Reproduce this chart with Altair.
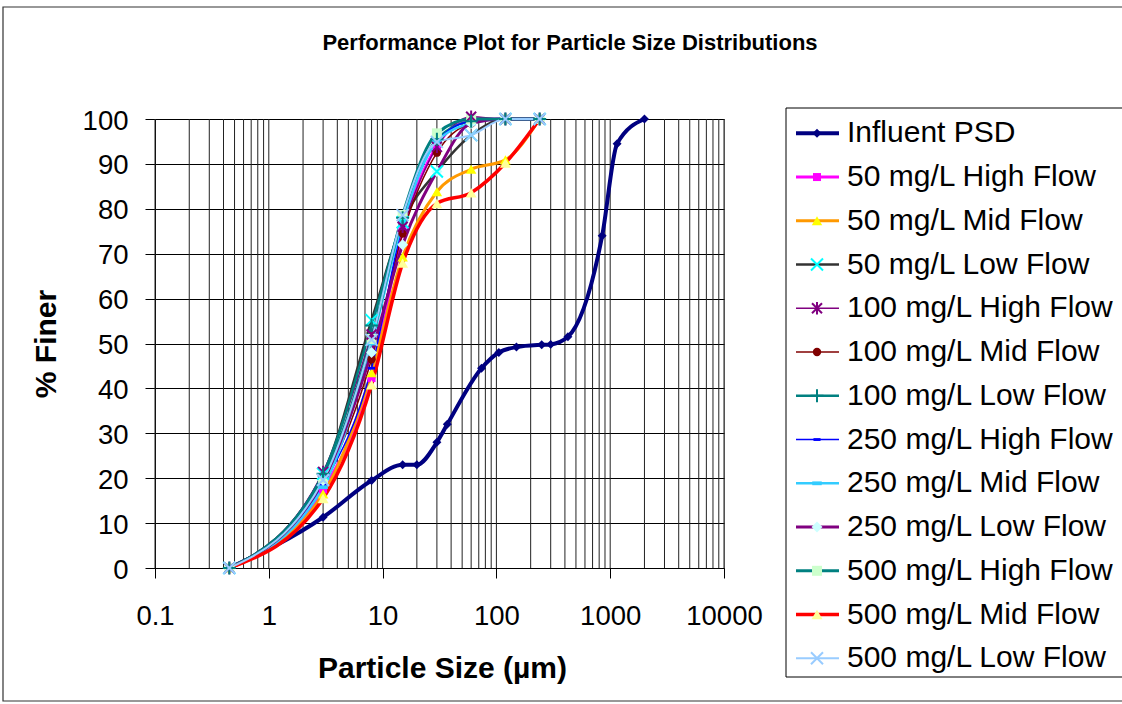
import altair as alt
import pandas as pd

# ---------------- data ----------------
series_names = [
    "Influent PSD",
    "50 mg/L High Flow", "50 mg/L Mid Flow", "50 mg/L Low Flow",
    "100 mg/L High Flow", "100 mg/L Mid Flow", "100 mg/L Low Flow",
    "250 mg/L High Flow", "250 mg/L Mid Flow", "250 mg/L Low Flow",
    "500 mg/L High Flow", "500 mg/L Mid Flow", "500 mg/L Low Flow",
]

influent_size = [0.45, 3, 8, 15, 20, 30, 37, 74, 105, 150, 250, 300, 425, 850, 1150, 2000]
influent_finer = [0, 11.3, 19.5, 23, 23, 28, 32, 44.5, 48, 49.2, 49.7, 49.8, 51.5, 74, 94.5, 100]

sample_size = [0.45, 3, 8, 15, 30, 60, 120, 240]
finer_50_high = [0, 17.5, 42.3, 75.0, 94.0, 100.0, 100, 100]
finer_50_mid = [0, 16.5, 43.5, 69.3, 83.8, 88.8, 90.9, 100]
finer_50_low = [0, 21.0, 55.2, 77.0, 88.3, 96.4, 100, 100]
finer_100_high = [0, 21.4, 52.0, 76.0, 93.8, 100.5, 100, 100]
finer_100_mid = [0, 19.0, 46.5, 74.5, 92.5, 99.0, 100, 100]
finer_100_low = [0, 21.0, 54.0, 78.0, 95.5, 99.5, 100, 100]
finer_250_high = [0, 18.5, 44.5, 76.4, 95.0, 99.5, 100, 100]
finer_250_mid = [0, 18.0, 50.0, 77.0, 95.0, 99.0, 100, 100]
finer_250_low = [0, 19.5, 48.0, 72.0, 88.3, 99.0, 100, 100]
finer_500_high = [0, 20.0, 51.0, 78.6, 96.8, 100.0, 100, 100]
finer_500_mid = [0, 15.5, 40.8, 67.9, 81.2, 83.6, 90.2, 100]
finer_500_low = [0, 19.6, 50.8, 78.6, 94.9, 96.4, 100, 100]

x_tick_values = [0.1, 1, 10, 100, 1000, 10000]
y_tick_values = [0, 10, 20, 30, 40, 50, 60, 70, 80, 90, 100]
grid_sizes = [0.1, 0.2, 0.3, 0.4, 0.5, 0.6, 0.7, 0.8, 0.9,
              1, 2, 3, 4, 5, 6, 7, 8, 9,
              10, 20, 30, 40, 50, 60, 70, 80, 90,
              100, 200, 300, 400, 500, 600, 700, 800, 900,
              1000, 2000, 3000, 4000, 5000, 6000, 7000, 8000, 9000, 10000]

# ---------------- styles ----------------
X_PATH = "M-1,-1L1,1M-1,1L1,-1"
STAR_PATH = "M-1,-1L1,1M-1,1L1,-1M0,-1.25L0,1.25"
PLUS_PATH = "M-1,0L1,0M0,-1L0,1"
DASH_PATH = "M-1,-0.4L1,-0.4L1,0.4L-1,0.4Z"

line_colors = ["#000080", "#FF00FF", "#FF9900", "#333333", "#800080", "#800000",
               "#008080", "#0000FF", "#33CCFF", "#800080", "#008080", "#FF0000", "#99CCFF"]
line_widths = [4, 3, 3, 2.5, 1.5, 1.5, 2.5, 1.5, 2.5, 3, 3, 3.5, 2]
marker_shapes = ["diamond", "square", "triangle-up", X_PATH, STAR_PATH, "circle",
                 PLUS_PATH, DASH_PATH, DASH_PATH, "diamond", "square", "triangle-up", X_PATH]
marker_colors = ["#000080", "#FF00FF", "#FFFF00", "#00FFFF", "#800080", "#800000",
                 "#008080", "#0000FF", "#33CCFF", "#CCFFFF", "#CCFFCC", "#FFFF99", "#99CCFF"]
marker_filled = [True, True, True, False, False, True, False, True, True, True, True, True, False]
marker_sizes = [80, 64, 110, 144, 100, 70, 170, 50, 90, 120, 100, 120, 144]

series_x = [influent_size] + [sample_size] * 12
series_y = [influent_finer, finer_50_high, finer_50_mid, finer_50_low,
            finer_100_high, finer_100_mid, finer_100_low,
            finer_250_high, finer_250_mid, finer_250_low,
            finer_500_high, finer_500_mid, finer_500_low]

rows = []
legend_rows = []
for i, name in enumerate(series_names):
    style = dict(series=name, order=i, lcolor=line_colors[i], lw=line_widths[i],
                 shape=marker_shapes[i], mcolor=marker_colors[i],
                 filled=marker_filled[i], msize=marker_sizes[i])
    legend_rows.append(dict(style))
    for sx, sy in zip(series_x[i], series_y[i]):
        r = dict(style)
        r["size"] = sx
        r["finer"] = sy
        rows.append(r)

df = pd.DataFrame(rows)
legend_df = pd.DataFrame(legend_rows)
grid_df = pd.DataFrame({"gx": grid_sizes})
one = pd.DataFrame({"k": [0]})

W, H = 569, 449
FONT = "Liberation Sans"

x_scale = alt.Scale(type="log", domain=[0.1, 10000], nice=False)
y_scale = alt.Scale(domain=[0, 100], nice=False, zero=False)

x_axis = alt.Axis(values=x_tick_values, format="~g", grid=False, ticks=True, tickSize=10,
                  tickColor="#000", domainColor="#000", labelFontSize=27.5, labelFont=FONT,
                  labelColor="#000", labelPadding=24, labelFlush=False, labelOverlap=False,
                  title="Particle Size (µm)", titleFont=FONT, titleFontSize=30,
                  titleFontWeight="bold", titleColor="#000", titleX=287, titleY=100,
                  titleBaseline="middle", titleAlign="center")
y_axis = alt.Axis(values=y_tick_values, grid=True, gridColor="#000", gridWidth=1,
                  gridOpacity=1, ticks=True, tickSize=10, tickColor="#000",
                  domainColor="#000", labelFontSize=27.5, labelFont=FONT, labelColor="#000",
                  labelPadding=17, labelOffset=2, title="% Finer", titleFont=FONT,
                  titleFontSize=30, titleFontWeight="bold", titleColor="#000",
                  titleX=-109, titleY=224.5, titleAngle=-90, titleBaseline="middle",
                  titleAlign="center")

x_enc = alt.X("size:Q", scale=x_scale, axis=x_axis)
y_enc = alt.Y("finer:Q", scale=y_scale, axis=y_axis)

# vertical log grid lines (major + minor)
grid = alt.Chart(grid_df).mark_rule(color="#222", strokeWidth=1).encode(
    x=alt.X("gx:Q", scale=x_scale, axis=x_axis),
    y=alt.value(0), y2=alt.value(H),
)

lines = alt.Chart(df).mark_line(interpolate="monotone").encode(
    x=x_enc, y=y_enc,
    detail="series:N",
    color=alt.Color("lcolor:N", scale=None),
    strokeWidth=alt.StrokeWidth("lw:Q", scale=None),
    order=alt.Order("size:Q"),
)

filled_pts = alt.Chart(df).transform_filter("datum.filled").mark_point(
    filled=True, opacity=1, strokeWidth=0).encode(
    x=x_enc, y=y_enc,
    shape=alt.Shape("shape:N", scale=None),
    fill=alt.Fill("mcolor:N", scale=None),
    size=alt.Size("msize:Q", scale=None),
)

stroked_pts = alt.Chart(df).transform_filter("!datum.filled").mark_point(
    filled=False, opacity=1, strokeWidth=2).encode(
    x=x_enc, y=y_enc,
    shape=alt.Shape("shape:N", scale=None),
    stroke=alt.Stroke("mcolor:N", scale=None),
    size=alt.Size("msize:Q", scale=None),
)

main = alt.layer(grid, lines, filled_pts, stroked_pts)

# ---------------- legend panel ----------------
leg_y = alt.Y("series:N", sort=series_names,
              scale=alt.Scale(type="point", domain=series_names, range=[14.3, 539.3], padding=0),
              axis=None)

leg_box = alt.Chart(one).mark_rect(fill="white", stroke="#000", strokeWidth=1).encode(
    x=alt.value(631), x2=alt.value(1000), y=alt.value(-11), y2=alt.value(558))

leg_lines = alt.Chart(legend_df).mark_rule().encode(
    x=alt.value(641), x2=alt.value(684), y=leg_y,
    color=alt.Color("lcolor:N", scale=None),
    strokeWidth=alt.StrokeWidth("lw:Q", scale=None),
)
leg_fpts = alt.Chart(legend_df).transform_filter("datum.filled").mark_point(
    filled=True, opacity=1, strokeWidth=0).encode(
    x=alt.value(662), y=leg_y,
    shape=alt.Shape("shape:N", scale=None),
    fill=alt.Fill("mcolor:N", scale=None),
    size=alt.Size("msize:Q", scale=None),
)
leg_spts = alt.Chart(legend_df).transform_filter("!datum.filled").mark_point(
    filled=False, opacity=1, strokeWidth=2).encode(
    x=alt.value(662), y=leg_y,
    shape=alt.Shape("shape:N", scale=None),
    stroke=alt.Stroke("mcolor:N", scale=None),
    size=alt.Size("msize:Q", scale=None),
)
leg_text = alt.Chart(legend_df).mark_text(
    align="left", baseline="middle", font=FONT, fontSize=30, color="#000").encode(
    x=alt.value(692), y=leg_y, text="series:N")

legend = alt.layer(leg_lines, leg_fpts, leg_spts, leg_text)

# ---------------- frame and title ----------------
outer_frame = alt.Chart(one).mark_rect(fill=None, stroke="#333", strokeWidth=1.2).encode(
    x=alt.value(-152), x2=alt.value(990), y=alt.value(-112), y2=alt.value(582))

title = alt.Chart(one).mark_text(
    align="center", baseline="middle", font=FONT, fontSize=22, fontWeight="bold",
    color="#000").encode(
    x=alt.value(415), y=alt.value(-76),
    text=alt.value("Performance Plot for Particle Size Distributions"))

chart = alt.layer(outer_frame, leg_box, main, legend, title).resolve_scale(
    y="independent"
).properties(
    width=W, height=H,
    autosize=alt.AutoSizeParams(type="none"),
    padding={"left": 155, "top": 119, "right": 398, "bottom": 136},
    background="white",
).configure_view(stroke="#808080", strokeWidth=1)

chart.save("out.html", embed_options={"renderer": "svg", "actions": False})
